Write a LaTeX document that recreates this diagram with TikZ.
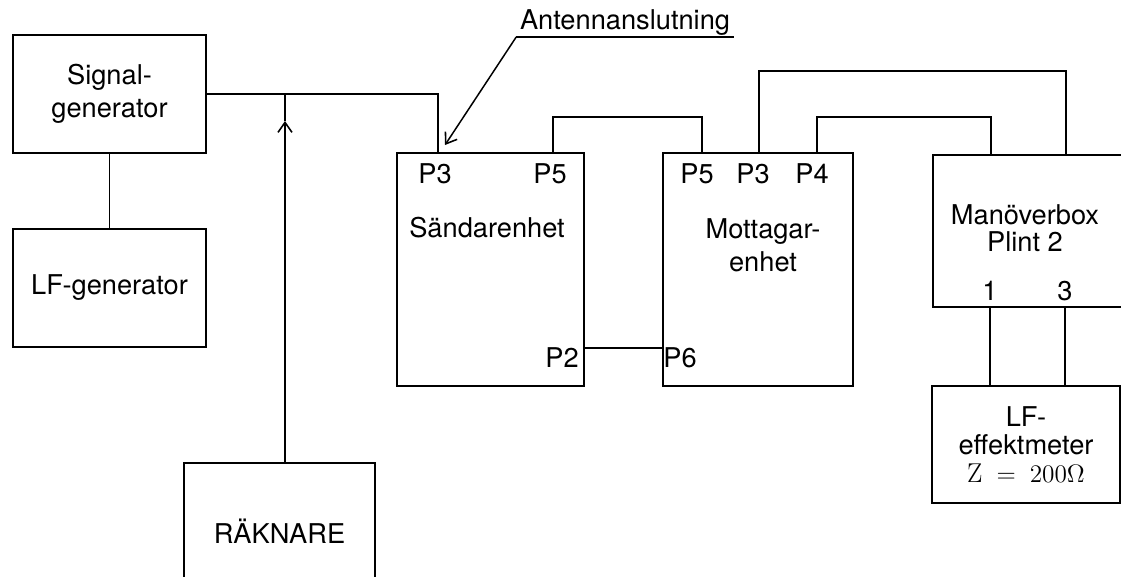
\documentclass[tikz,border=0pt]{standalone}
\usepackage{fontspec}
\setsansfont{TeX Gyre Heros}
\usetikzlibrary{arrows.meta}

\begin{document}
\begin{tikzpicture}[
  x=0.02cm, y=-0.02cm,
  unit/.style={draw, line width=1pt, align=center, inner sep=0pt,
               font=\sffamily\fontsize{15.5}{19}\selectfont},
  port/.style={inner sep=1pt, align=center, font=\sffamily\fontsize{15.5}{19}\selectfont},
  wire/.style={line width=0.85pt},
  arrow/.style={wire, -{Straight Barb[length=2mm,width=2.8mm,line width=0.9pt]}}
]
\useasboundingbox (0,0) rectangle (1121,576);

\node[unit, minimum width=3.86cm, minimum height=2.36cm] (siggen) at (109.5,94) {Signal-\\generator};
\node[unit, minimum width=3.86cm, minimum height=2.36cm] (lfgen) at (109.5,288) {LF-generator};
\node[unit, minimum width=3.82cm, minimum height=2.74cm] (raknare) at (279.5,531.5) {RÄKNARE};
\node[unit, minimum width=3.74cm, minimum height=4.66cm] (sandare) at (490.5,269.5) {};
\node[unit, minimum width=3.80cm, minimum height=4.66cm] (mottagare) at (758,269.5) {};
\node[unit, minimum width=4.04cm, minimum height=3.04cm] (manover) at (1034,231) {};
\node[unit, minimum width=3.76cm, minimum height=2.34cm,
      font=\sffamily\fontsize{15.5}{16}\selectfont] (effekt) at (1026,444.5)
      {LF-\\effektmeter\\$\mathrm{Z}\;=\;200\Omega$};

\node[port] (sandtext) at (487,228) {Sändarenhet};
\node[port] (mottext) at (763,245) {Mottagar-\\enhet};
\node[port, font=\sffamily\fontsize{15.5}{15}\selectfont] (mantext) at (1025,228) {Manöverbox\\Plint 2};

\node[port] (sP3) at (435,174) {P3};
\node[port] (sP5) at (550,174) {P5};
\node[port] (sP2) at (562,358) {P2};
\node[port] (mP5) at (697,174) {P5};
\node[port] (mP3) at (753,174) {P3};
\node[port] (mP4) at (812,174) {P4};
\node[port] (mP6) at (680,358) {P6};
\node[port] (k1) at (990,291) {1};
\node[port] (k3) at (1065,291) {3};

\node[port, inner xsep=2pt, inner ysep=0.5pt] (antenn) at (625,23) {Antennanslutning};
\coordinate (anttip) at (445,145);
\coordinate (pil) at (285,121);

\draw[wire] (antenn.south west) -- (antenn.south east);
\draw[arrow] (antenn.south west) -- (anttip);
\draw[wire] (siggen) -- (lfgen);
\draw[wire] (siggen.east) -| (438,0 |- sandare.north);
\draw[arrow] (285,0 |- raknare.north) -- (pil);
\draw[wire] (pil) -- (pil |- siggen.east);
\draw[wire] (553,0 |- sandare.north) -- (553,117) -| (702,0 |- mottagare.north);
\draw[wire] (759,0 |- mottagare.north) -- (759,71) -| (1066,0 |- manover.north);
\draw[wire] (817,0 |- mottagare.north) -- (817,117) -| (991,0 |- manover.north);
\draw[wire] (sandare.east |- 0,348) -- (mottagare.west |- 0,348);
\draw[wire] (990,0 |- manover.south) -- (990,0 |- effekt.north);
\draw[wire] (1065,0 |- manover.south) -- (1065,0 |- effekt.north);
\end{tikzpicture}
\end{document}
